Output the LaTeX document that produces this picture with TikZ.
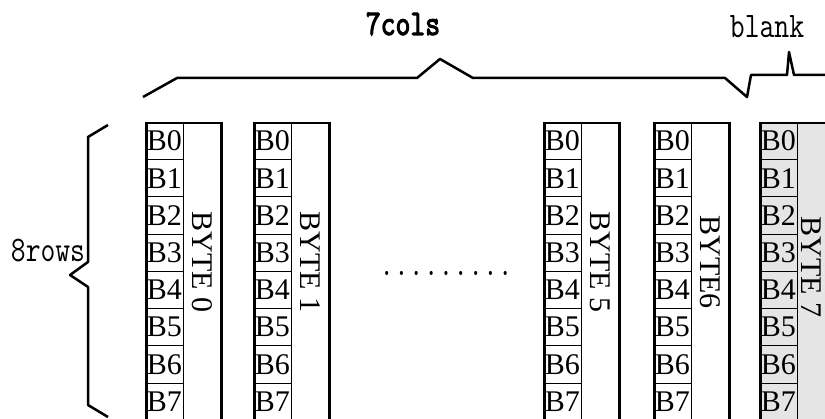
\documentclass[tikz,border=0pt]{standalone}
\usepackage{fontspec}
\setmainfont{Liberation Serif}
\newfontfamily\dimfont[FakeStretch=0.8]{Latin Modern Mono}
\newfontfamily\dimboldfont[FakeStretch=0.8,FakeBold=3]{Latin Modern Mono}
\tikzset{>=latex}
\tikzset{
  bytebox/.style={draw, line width=2.5pt, minimum width=75, minimum height=320, anchor=north west, inner sep=0},
  bitcell/.style={draw, line width=0.7pt, minimum width=38, minimum height=37.25, anchor=north west, inner sep=0, font=\fontsize{30}{30}\selectfont},
  bytelabel/.style={rotate=-90, inner sep=0, font=\fontsize{30}{30}\selectfont},
  dimtext/.style={anchor=base, inner sep=0, font=\dimfont\fontsize{36}{36}\selectfont},
  brace/.style={line width=2.5pt, line join=round}
}

\begin{document}
\begin{tikzpicture}[x=1pt,y=-1pt]
\useasboundingbox (0,0) rectangle (825,419);
\clip (0,0) rectangle (825,419);

\foreach \n/\x/\t in {0/145/BYTE 0,1/253/BYTE 1,5/543/BYTE 5,6/653/BYTE6}{
  \node[bytebox] (byte\n) at (\x,122) {};
  \foreach \r in {0,...,7}
    \node[bitcell] (b\n-\r) at (\x,122+\r*37.25) {B\r};
  \node[bytelabel] (lab\n) at (\x+57,262) {\t};
}

% blank column
\node[bytebox, fill=gray!20] (byte7) at (759,122) {};
\foreach \r in {0,...,7}
  \node[bitcell] (b7-\r) at (759,122+\r*37.25) {B\r};
\node[bytelabel] (lab7) at (811,267) {BYTE 7};

\node[dimtext] (dots) at (446,276) {.........};

% braces
\draw[brace] (143,97) -- (177,78) -- (417,78) -- (440,59) -- (473,78) -- (725,78)
  -- (747,97) -- (751,75) -- (787,75) -- (789,52) -- (794,75) -- (830,75);
\draw[brace] (108,125) -- (88,137) -- (88,262) -- (70,275) -- (88,287) -- (88,405) -- (108,417);

\node[dimtext, font=\dimboldfont\fontsize{36}{36}\selectfont] (cols) at (403,35) {7cols};
\node[dimtext] (blank) at (767,38) {blank};
\node[dimtext] (rows) at (48,262) {8rows};

\end{tikzpicture}
\end{document}
